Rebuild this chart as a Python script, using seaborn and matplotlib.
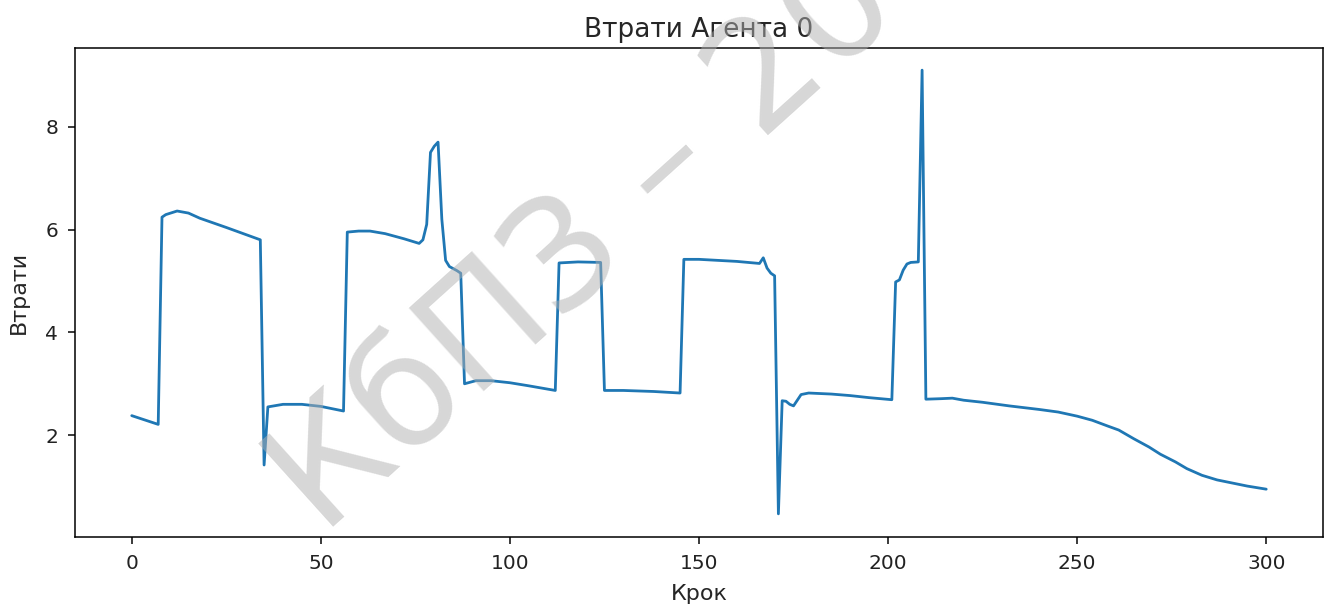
import numpy as np
import pandas as pd
import matplotlib
matplotlib.use("Agg")
import matplotlib.pyplot as plt
import seaborn as sns

# loss of agent 0, vertices
steps = [0, 7, 8, 9, 12, 15, 18, 25, 34, 35, 36, 40, 45, 50, 56,
         57, 60, 63, 67, 72, 76, 77, 78, 79, 80, 81, 82, 83, 84, 86, 87, 88,
         91, 95, 100, 105, 112, 113, 118, 124, 125, 130, 138, 145,
         146, 150, 160, 166, 167, 168, 169, 170, 171, 172, 173, 174, 175, 176, 177, 179,
         185, 190, 195, 201, 202, 203, 204, 205, 206, 208, 209, 210,
         214, 217, 220, 225, 232, 240, 245, 250, 254, 258, 261, 265, 269, 272,
         276, 279, 283, 287, 291, 295, 300]
loss = [2.38, 2.21, 6.24, 6.29, 6.36, 6.32, 6.22, 6.04, 5.80, 1.42, 2.55, 2.60, 2.60, 2.56, 2.47,
        5.95, 5.97, 5.97, 5.92, 5.82, 5.73, 5.80, 6.10, 7.50, 7.62, 7.70, 6.20, 5.40, 5.28, 5.20, 5.15, 3.00,
        3.06, 3.06, 3.02, 2.96, 2.87, 5.35, 5.37, 5.36, 2.87, 2.87, 2.85, 2.82,
        5.42, 5.42, 5.38, 5.34, 5.45, 5.25, 5.15, 5.10, 0.47, 2.67, 2.66, 2.60, 2.57, 2.68, 2.79, 2.82,
        2.80, 2.77, 2.73, 2.69, 4.98, 5.02, 5.21, 5.33, 5.36, 5.37, 9.10, 2.70,
        2.71, 2.72, 2.68, 2.64, 2.57, 2.50, 2.45, 2.37, 2.29, 2.18, 2.10, 1.93, 1.77, 1.63,
        1.48, 1.35, 1.22, 1.13, 1.07, 1.01, 0.95]

df = pd.DataFrame({"Крок": steps, "Втрати": loss})

sns.set_theme(style="ticks")
plt.rcParams["font.family"] = ["DejaVu Sans"]
plt.rcParams["axes.edgecolor"] = "black"
plt.rcParams["xtick.major.size"] = 5
plt.rcParams["ytick.major.size"] = 5
plt.rcParams["axes.linewidth"] = 1.1

fig = plt.figure(figsize=(13.3, 6.08), dpi=100)
ax = fig.add_axes([0.0564, 0.1168, 0.9383, 0.8042])
sns.lineplot(data=df, x="Крок", y="Втрати", color="#1f77b4", linewidth=2.0, ax=ax)

ax.set_xlim(-15, 315)
ax.set_ylim(0.02, 9.53)
ax.set_xticks([0, 50, 100, 150, 200, 250, 300])
ax.set_yticks([2, 4, 6, 8])
ax.tick_params(labelsize=14.5, colors="#222222")
ax.tick_params(axis="x", pad=7.5)
ax.tick_params(axis="y", pad=7)
ax.set_title("Втрати Агента 0", fontsize=19, pad=8)
ax.set_xlabel("Крок", fontsize=16, labelpad=8)
ax.set_ylabel("Втрати", fontsize=16, labelpad=12)

# watermark, semi-transparent so the line shows through
fig.text(0.440, 0.600, "КбПЗ – 20", fontsize=110, color="#b0b0b0",
         alpha=0.5, rotation=42, ha="center", va="center", rotation_mode="anchor", zorder=10)

fig.savefig("out.png", dpi=100)
